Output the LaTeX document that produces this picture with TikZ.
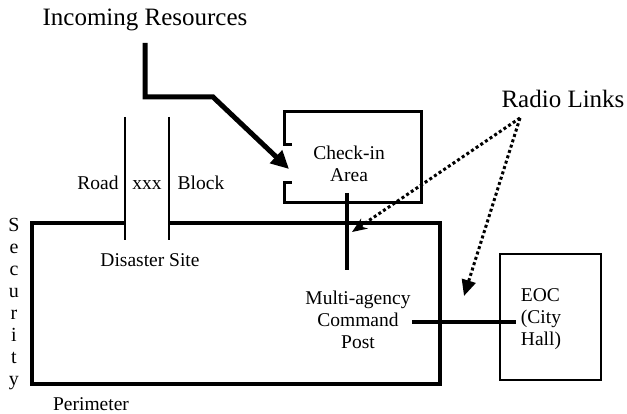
\documentclass[tikz,border=0pt]{standalone}
\usepackage{fontspec}
\setmainfont{Liberation Serif}
\usetikzlibrary{arrows.meta}
\tikzset{
  lbl/.style={inner sep=0pt, align=center, font=\fontsize{19.5}{22}\selectfont},
  biglbl/.style={inner sep=0pt, font=\fontsize{25}{28}\selectfont},
  radio/.style={line width=3pt, dash pattern=on 3pt off 2.6pt},
}
\begin{document}
\begin{tikzpicture}[x=1pt,y=-1pt]
\useasboundingbox (0,0) rectangle (627,414);
% titles
\node[biglbl] (inc) at (145,20) {Incoming Resources};
\node[biglbl] (radio) at (563,99) {Radio Links};
% incoming resources arrow
\coordinate (i1) at (145,43);
\coordinate (i2) at (145,97);
\coordinate (i3) at (213,97);
\coordinate (i4) at (289,169);
\draw[line width=5pt, -{Triangle[length=18pt,width=17pt]}] (i1) -- (i2) -- (i3) -- (i4);
% road block
\draw[line width=2.5pt] (125,117) -- (125,240);
\draw[line width=2.5pt] (169,117) -- (169,240);
\node[lbl, anchor=base] (road) at (98,190) {Road};
\node[lbl, anchor=base] (xxx) at (147,190) {xxx};
\node[lbl, anchor=base] (block) at (201,190) {Block};
% perimeter
\draw[line width=3.5pt] (125,223) -- (32,223) -- (32,384) -- (440,384) -- (440,223) -- (169,223);
\node[lbl] (site) at (150,260) {Disaster Site};
\node[lbl] (perim) at (91,404) {Perimeter};
\node[lbl, font=\fontsize{20}{21.9}\selectfont] (sec) at (14,304) {S\\e\\c\\u\\r\\i\\t\\y};
% check-in area
\draw[line width=3pt] (292,145) -- (284,145) -- (284,112) -- (421,112) -- (421,203) -- (284,203) -- (284,183) -- (292,183);
\node[lbl] (checkin) at (349,164) {Check-in\\Area};
% command post
\node[lbl] (mcp) at (358,320) {Multi-agency\\Command\\Post};
\coordinate (v1) at (347,193);
\coordinate (v2) at (347,270);
\draw[line width=4pt] (v1) -- (v2);
% EOC
\node[draw, line width=2pt, minimum width=101pt, minimum height=126pt, inner sep=0pt] (eocbox) at (550,317) {};
\node[lbl, align=left] (eoc) at (541,319) {EOC\\(City\\Hall)};
\coordinate (h1) at (412,322);
\coordinate (h2) at (516,322);
\draw[line width=4.5pt] (h1) -- (h2);
% radio links
\coordinate (r0) at (520,118);
\coordinate (r1) at (352,232);
\coordinate (r2) at (464,296);
\draw[radio, -{Stealth[length=15pt,width=12pt,inset=5pt]}] (r0) -- (r1);
\draw[radio, -{Triangle[length=16pt,width=14pt]}] (r0) -- (r2);
\end{tikzpicture}
\end{document}
